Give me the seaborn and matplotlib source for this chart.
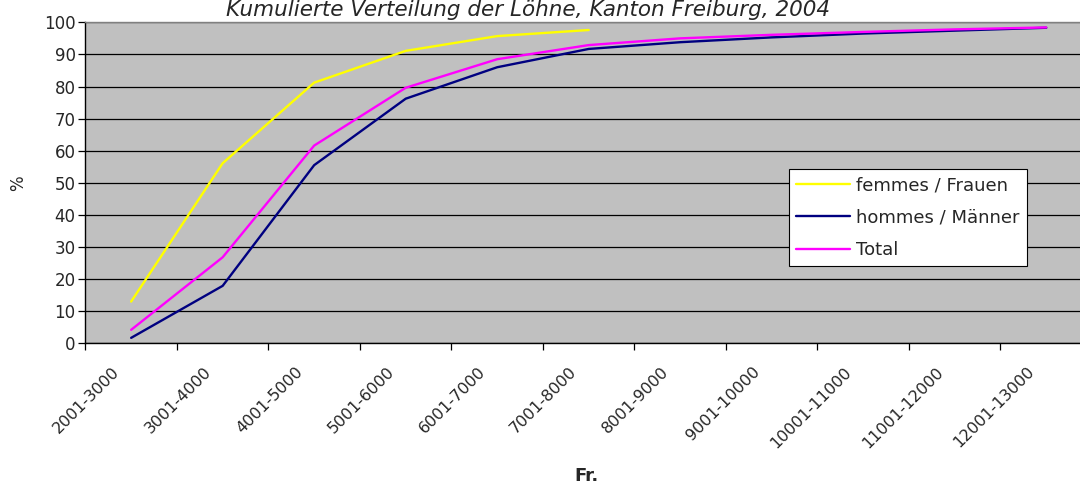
import numpy as np
import pandas as pd
import seaborn as sns
import matplotlib.pyplot as plt
from matplotlib.transforms import ScaledTranslation

categories = ["2001-3000", "3001-4000", "4001-5000", "5001-6000", "6001-7000",
              "7001-8000", "8001-9000", "9001-10000", "10001-11000",
              "11001-12000", "12001-13000"]
femmes = [13.0, 56.1, 81.2, 91.1, 95.7, 97.6, np.nan, np.nan, np.nan, np.nan, np.nan]
hommes = [1.7, 17.9, 55.5, 76.2, 86.0, 91.7, 93.8, 95.3, 96.5, 97.4, 98.3]
total = [4.2, 26.8, 61.6, 79.6, 88.5, 92.9, 95.0, 96.1, 97.0, 97.8, 98.4]
series = ["femmes / Frauen", "hommes / Männer", "Total"]
colors = ["#FFFF00", "#000080", "#FF00FF"]

df = pd.DataFrame({
    "pos": list(range(len(categories))) * 3,
    "serie": np.repeat(series, len(categories)),
    "pct": femmes + hommes + total,
})

sns.set_style("white")
plt.rcParams["font.family"] = ["DejaVu Sans"]

fig = plt.figure(figsize=(10.8, 4.84), dpi=100)
ax = fig.add_axes([85.4 / 1080, 1 - 343.3 / 484, (1092 - 85.4) / 1080, 321 / 484])
ax.set_facecolor("#C0C0C0")

sns.lineplot(data=df, x="pos", y="pct", hue="serie", hue_order=series,
             palette=dict(zip(series, colors)), linewidth=1.7, sort=False,
             ax=ax, legend=True)

ax.set_xlim(-0.5, len(categories) - 0.5)
ax.set_ylim(0, 100)
ax.set_yticks(range(0, 101, 10))
ax.yaxis.grid(True, color="black", linewidth=0.9)
ax.set_axisbelow(True)
ax.tick_params(axis="y", labelsize=12, length=5, width=0.9, color="black",
               direction="out", left=True, pad=2)

ax.set_xticks(range(len(categories)))
ax.set_xticklabels(categories, rotation=45, ha="right", rotation_mode="anchor",
                   fontsize=11.5)
ax.set_xticks(np.arange(-0.5, len(categories), 1), minor=True)
ax.tick_params(axis="x", which="major", length=0, pad=15)
ax.tick_params(axis="x", which="minor", length=5, width=0.9, color="black",
               direction="out", bottom=True)
shift = ScaledTranslation(-14 / 72, 0, fig.dpi_scale_trans)
for lbl in ax.get_xticklabels():
    lbl.set_transform(lbl.get_transform() + shift)

for side in ["left", "bottom"]:
    ax.spines[side].set_color("black")
    ax.spines[side].set_linewidth(1.0)
for side in ["top", "right"]:
    ax.spines[side].set_color("#808080")
    ax.spines[side].set_linewidth(1.0)

ax.set_xlabel("Fr.", fontsize=13, fontweight="bold", va="top")
ax.xaxis.set_label_coords((586 - 85.4) / (1092 - 85.4), (343.3 - 467) / 321)
ax.set_ylabel("%", fontsize=12, va="center")
ax.yaxis.set_label_coords((18.5 - 85.4) / (1092 - 85.4), (343.3 - 183) / 321)

fig.text(528 / 1080, 1 - 16 / 484, "Kumulierte Verteilung der Löhne, Kanton Freiburg, 2004",
         ha="center", va="baseline", fontsize=15.5, style="italic")

handles, labels = ax.get_legend_handles_labels()
ax.legend(handles, labels, loc="upper left",
          bbox_to_anchor=(789 / 1080, 1 - 169 / 484), bbox_transform=fig.transFigure,
          borderaxespad=0, fancybox=False, framealpha=1, edgecolor="black",
          fontsize=13, handlelength=3.0, handletextpad=0.3, labelspacing=0.8,
          borderpad=0.4)
ax.get_legend().get_frame().set_linewidth(0.8)

fig.savefig("out.png", dpi=100)
